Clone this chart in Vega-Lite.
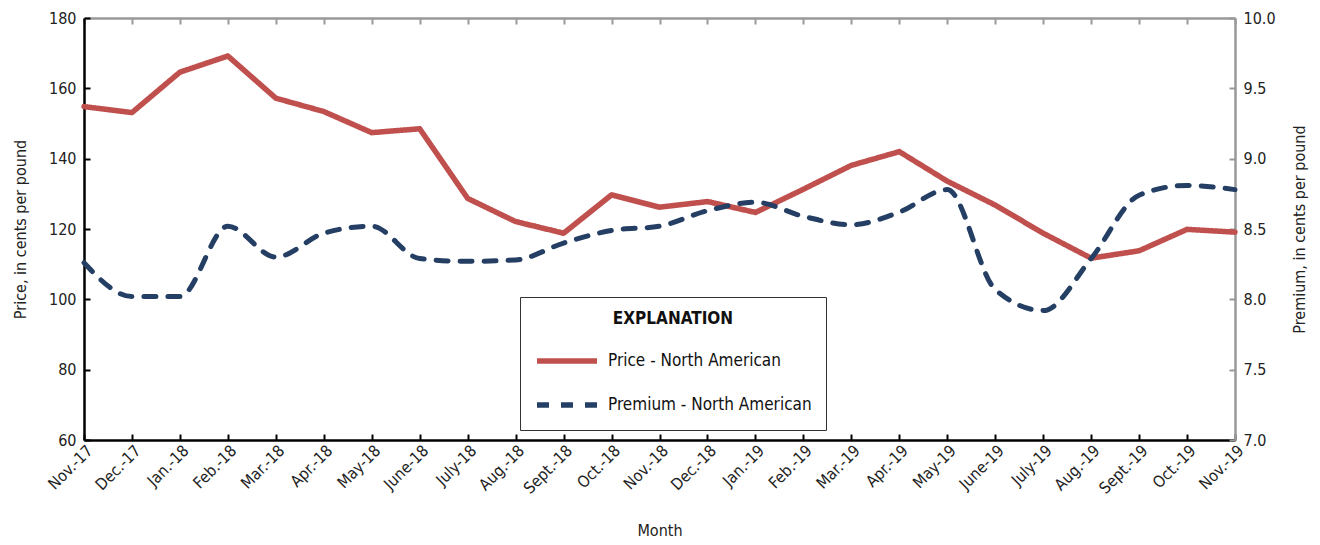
{
  "$schema": "https://vega.github.io/schema/vega-lite/v6.json",
  "autosize": "none",
  "width": 1151,
  "height": 422,
  "padding": {"left": 84, "top": 18, "right": 85, "bottom": 105},
  "background": "white",
  "config": {
    "view": {"stroke": null},
    "font": "'DejaVu Sans Condensed', 'Liberation Sans', sans-serif",
    "axis": {"grid": false, "labelFont": "'DejaVu Sans Condensed', 'Liberation Sans', sans-serif", "titleFont": "'DejaVu Sans Condensed', 'Liberation Sans', sans-serif", "labelColor": "#222", "titleColor": "#222", "titleFontWeight": "normal", "labelFontSize": 16, "titleFontSize": 16}
  },
  "data": {
    "values": [
      {"month": "Nov.-17", "price": 154.8, "premium": 8.26},
      {"month": "Dec.-17", "price": 153.1, "premium": 8.02},
      {"month": "Jan.-18", "price": 164.6, "premium": 8.02},
      {"month": "Feb.-18", "price": 169.2, "premium": 8.52},
      {"month": "Mar.-18", "price": 157.2, "premium": 8.30},
      {"month": "Apr.-18", "price": 153.4, "premium": 8.47},
      {"month": "May-18", "price": 147.4, "premium": 8.52},
      {"month": "June-18", "price": 148.5, "premium": 8.29},
      {"month": "July-18", "price": 128.7, "premium": 8.27},
      {"month": "Aug.-18", "price": 122.1, "premium": 8.28},
      {"month": "Sept.-18", "price": 118.8, "premium": 8.40},
      {"month": "Oct.-18", "price": 129.7, "premium": 8.49},
      {"month": "Nov.-18", "price": 126.2, "premium": 8.52},
      {"month": "Dec.-18", "price": 127.8, "premium": 8.63},
      {"month": "Jan.-19", "price": 124.7, "premium": 8.69},
      {"month": "Feb.-19", "price": 131.3, "premium": 8.59},
      {"month": "Mar.-19", "price": 138.1, "premium": 8.53},
      {"month": "Apr.-19", "price": 142.0, "premium": 8.62},
      {"month": "May-19", "price": 133.6, "premium": 8.78},
      {"month": "June-19", "price": 126.8, "premium": 8.07},
      {"month": "July-19", "price": 118.8, "premium": 7.92},
      {"month": "Aug.-19", "price": 111.7, "premium": 8.29},
      {"month": "Sept.-19", "price": 113.8, "premium": 8.74},
      {"month": "Oct.-19", "price": 119.9, "premium": 8.81},
      {"month": "Nov.-19", "price": 119.1, "premium": 8.78}
    ]
  },
  "layer": [
    {
      "mark": {"type": "line", "strokeWidth": 5.5, "strokeCap": "round", "strokeJoin": "round"},
      "encoding": {
        "x": {"field": "month", "type": "ordinal", "sort": null, "scale": {"type": "point", "padding": 0},
              "axis": {"orient": "bottom", "title": "Month", "labelAngle": -45, "labelAlign": "right", "labelBaseline": "top", "tickSize": -6, "tickColor": "#000", "tickWidth": 2, "domainColor": "#000", "domainWidth": 2.5, "labelPadding": 8, "titlePadding": 26}},
        "y": {"field": "price", "type": "quantitative", "scale": {"domain": [60, 180], "zero": false, "nice": false},
              "axis": {"orient": "left", "title": "Price, in cents per pound", "values": [60, 80, 100, 120, 140, 160, 180], "tickSize": -6, "tickColor": "#000", "tickWidth": 2, "domainColor": "#000", "domainWidth": 2.5, "labelPadding": 14, "titlePadding": 20}},
        "color": {"datum": "Price - North American", "type": "nominal",
                  "scale": {"domain": ["Price - North American", "Premium - North American"], "range": ["#c0504d", "#243f63"]},
                  "legend": {"title": "EXPLANATION", "orient": "none", "legendX": 436, "legendY": 279, "strokeColor": "#333", "padding": 14, "titleAnchor": "middle", "titleFontSize": 17, "titleFontWeight": "bold", "titleFont": "'DejaVu Sans Condensed', 'Liberation Sans', sans-serif", "titleColor": "#111", "titlePadding": 0, "labelFontSize": 17, "labelFont": "'DejaVu Sans Condensed', 'Liberation Sans', sans-serif", "labelColor": "#111", "labelLimit": 400, "symbolType": "stroke", "symbolSize": 3600, "symbolStrokeWidth": 5.5, "rowPadding": -40, "labelOffset": 8}},
        "strokeDash": {"datum": "Price - North American", "type": "nominal",
                  "scale": {"domain": ["Price - North American", "Premium - North American"], "range": [[1, 0], [12, 12]]},
                  "legend": {"title": "EXPLANATION"}}
      }
    },
    {
      "mark": {"type": "line", "strokeWidth": 5, "strokeCap": "round", "strokeJoin": "round", "interpolate": "monotone"},
      "encoding": {
        "x": {"field": "month", "type": "ordinal", "sort": null, "scale": {"type": "point", "padding": 0},
              "axis": {"orient": "top", "title": null, "labels": false, "tickSize": -6, "tickColor": "#999", "tickWidth": 2, "domainColor": "#999", "domainWidth": 2.5}},
        "y": {"field": "premium", "type": "quantitative", "scale": {"domain": [7, 10], "zero": false, "nice": false},
              "axis": {"orient": "right", "title": "Premium, in cents per pound", "titleAngle": 270, "values": [7, 7.5, 8, 8.5, 9, 9.5, 10], "format": ".1f", "tickSize": -6, "tickColor": "#999", "tickWidth": 2, "domainColor": "#999", "domainWidth": 2.5, "labelPadding": 14, "titlePadding": 32}},
        "color": {"datum": "Premium - North American", "type": "nominal"},
        "strokeDash": {"datum": "Premium - North American", "type": "nominal"}
      }
    }
  ],
  "resolve": {"scale": {"y": "independent"}, "axis": {"x": "independent"}}
}
